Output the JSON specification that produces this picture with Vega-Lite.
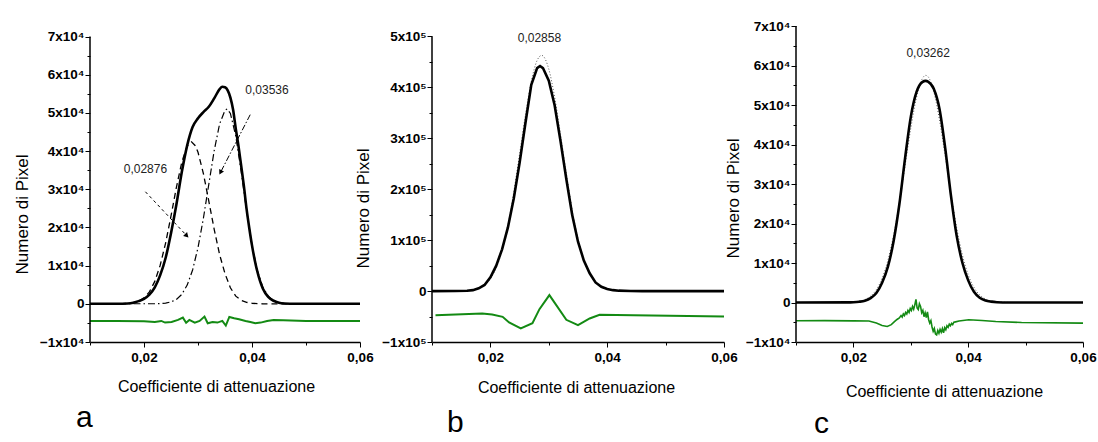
{
  "$schema": "https://vega.github.io/schema/vega-lite/v6.json",
  "background": "white",
  "padding": {"left": 13, "top": 19, "right": 0, "bottom": 0},
  "bounds": "flush",
  "spacing": 72,
  "config": {
    "view": {"stroke": null},
    "axis": {
      "grid": false,
      "domainColor": "#000",
      "tickColor": "#000",
      "labelColor": "#000",
      "titleColor": "#000",
      "labelFont": "Liberation Sans",
      "labelFontWeight": "bold",
      "labelFontSize": 13.5,
      "titleFont": "Liberation Sans",
      "titleFontWeight": "normal",
      "titleFontSize": 16,
      "labelOverlap": false,
      "labelFlush": false,
      "tickCount": 40
    },
    "text": {"font": "Liberation Sans", "fontSize": 12, "color": "#222"}
  },
  "datasets": {
    "A": [
      {"s":"sum","x":0.010,"y":0},{"s":"sum","x":0.015,"y":0},{"s":"sum","x":0.017,"y":100},{"s":"sum","x":0.018,"y":300},{"s":"sum","x":0.019,"y":700},{"s":"sum","x":0.020,"y":1300},{"s":"sum","x":0.021,"y":2400},{"s":"sum","x":0.022,"y":4300},{"s":"sum","x":0.023,"y":7500},{"s":"sum","x":0.024,"y":12000},{"s":"sum","x":0.025,"y":18500},{"s":"sum","x":0.026,"y":26000},{"s":"sum","x":0.027,"y":34500},{"s":"sum","x":0.028,"y":41500},{"s":"sum","x":0.029,"y":46300},{"s":"sum","x":0.030,"y":48600},{"s":"sum","x":0.031,"y":50200},{"s":"sum","x":0.032,"y":51600},{"s":"sum","x":0.033,"y":53800},{"s":"sum","x":0.034,"y":56200},{"s":"sum","x":0.0345,"y":56850},{"s":"sum","x":0.035,"y":56700},{"s":"sum","x":0.0355,"y":55900},{"s":"sum","x":0.036,"y":54000},{"s":"sum","x":0.0365,"y":50800},{"s":"sum","x":0.037,"y":45800},{"s":"sum","x":0.0375,"y":41300},{"s":"sum","x":0.038,"y":36100},{"s":"sum","x":0.0385,"y":30800},{"s":"sum","x":0.039,"y":24800},{"s":"sum","x":0.0395,"y":19800},{"s":"sum","x":0.040,"y":15300},{"s":"sum","x":0.0405,"y":11500},{"s":"sum","x":0.041,"y":8400},{"s":"sum","x":0.042,"y":4000},{"s":"sum","x":0.043,"y":1800},{"s":"sum","x":0.044,"y":800},{"s":"sum","x":0.045,"y":300},{"s":"sum","x":0.046,"y":100},{"s":"sum","x":0.048,"y":0},{"s":"sum","x":0.060,"y":0},
      {"s":"c1","x":0.010,"y":0},{"s":"c1","x":0.016,"y":40},{"s":"c1","x":0.017,"y":110},{"s":"c1","x":0.018,"y":280},{"s":"c1","x":0.019,"y":690},{"s":"c1","x":0.020,"y":1540},{"s":"c1","x":0.021,"y":3130},{"s":"c1","x":0.022,"y":5870},{"s":"c1","x":0.023,"y":10100},{"s":"c1","x":0.024,"y":15900},{"s":"c1","x":0.025,"y":23000},{"s":"c1","x":0.026,"y":30500},{"s":"c1","x":0.027,"y":37100},{"s":"c1","x":0.028,"y":41350},{"s":"c1","x":0.0288,"y":42400},{"s":"c1","x":0.0295,"y":41400},{"s":"c1","x":0.030,"y":39700},{"s":"c1","x":0.031,"y":34100},{"s":"c1","x":0.032,"y":26900},{"s":"c1","x":0.033,"y":19500},{"s":"c1","x":0.034,"y":12900},{"s":"c1","x":0.035,"y":7900},{"s":"c1","x":0.036,"y":4200},{"s":"c1","x":0.037,"y":2000},{"s":"c1","x":0.038,"y":900},{"s":"c1","x":0.039,"y":380},{"s":"c1","x":0.040,"y":150},{"s":"c1","x":0.041,"y":50},{"s":"c1","x":0.042,"y":0},{"s":"c1","x":0.060,"y":0},
      {"s":"c2","x":0.010,"y":0},{"s":"c2","x":0.022,"y":20},{"s":"c2","x":0.023,"y":70},{"s":"c2","x":0.024,"y":190},{"s":"c2","x":0.025,"y":490},{"s":"c2","x":0.026,"y":1150},{"s":"c2","x":0.027,"y":2480},{"s":"c2","x":0.028,"y":4900},{"s":"c2","x":0.029,"y":8860},{"s":"c2","x":0.030,"y":14700},{"s":"c2","x":0.031,"y":22400},{"s":"c2","x":0.032,"y":31300},{"s":"c2","x":0.033,"y":40100},{"s":"c2","x":0.034,"y":47100},{"s":"c2","x":0.035,"y":50700},{"s":"c2","x":0.0354,"y":51000},{"s":"c2","x":0.036,"y":49850},{"s":"c2","x":0.037,"y":43900},{"s":"c2","x":0.038,"y":34600},{"s":"c2","x":0.039,"y":24400},{"s":"c2","x":0.040,"y":15400},{"s":"c2","x":0.041,"y":8700},{"s":"c2","x":0.042,"y":4400},{"s":"c2","x":0.043,"y":2000},{"s":"c2","x":0.044,"y":800},{"s":"c2","x":0.045,"y":290},{"s":"c2","x":0.046,"y":90},{"s":"c2","x":0.047,"y":0},{"s":"c2","x":0.060,"y":0},
      {"s":"res","x":0.010,"y":-4480},{"s":"res","x":0.015,"y":-4500},{"s":"res","x":0.020,"y":-4550},{"s":"res","x":0.0220,"y":-4750},{"s":"res","x":0.0232,"y":-4480},{"s":"res","x":0.0239,"y":-4920},{"s":"res","x":0.0251,"y":-4750},{"s":"res","x":0.0263,"y":-4220},{"s":"res","x":0.0272,"y":-3610},{"s":"res","x":0.0278,"y":-4950},{"s":"res","x":0.0284,"y":-4220},{"s":"res","x":0.0294,"y":-4920},{"s":"res","x":0.0303,"y":-4480},{"s":"res","x":0.0312,"y":-3350},{"s":"res","x":0.0318,"y":-5100},{"s":"res","x":0.0327,"y":-4750},{"s":"res","x":0.0336,"y":-4920},{"s":"res","x":0.0345,"y":-4480},{"s":"res","x":0.03515,"y":-5700},{"s":"res","x":0.0358,"y":-3440},{"s":"res","x":0.0367,"y":-3790},{"s":"res","x":0.0376,"y":-4050},{"s":"res","x":0.0388,"y":-4480},{"s":"res","x":0.0397,"y":-4750},{"s":"res","x":0.0406,"y":-5100},{"s":"res","x":0.0416,"y":-4920},{"s":"res","x":0.0428,"y":-4480},{"s":"res","x":0.0440,"y":-4220},{"s":"res","x":0.0458,"y":-4300},{"s":"res","x":0.050,"y":-4480},{"s":"res","x":0.055,"y":-4500},{"s":"res","x":0.060,"y":-4500}
    ],
    "B": [
      {"s":"sum","x":0.010,"y":0},{"s":"sum","x":0.014,"y":200},{"s":"sum","x":0.016,"y":600},{"s":"sum","x":0.017,"y":1800},{"s":"sum","x":0.018,"y":5500},{"s":"sum","x":0.019,"y":12000},{"s":"sum","x":0.020,"y":27000},{"s":"sum","x":0.021,"y":50000},{"s":"sum","x":0.022,"y":82000},{"s":"sum","x":0.023,"y":125000},{"s":"sum","x":0.024,"y":182000},{"s":"sum","x":0.025,"y":252000},{"s":"sum","x":0.026,"y":330000},{"s":"sum","x":0.027,"y":405000},{"s":"sum","x":0.028,"y":438000},{"s":"sum","x":0.0285,"y":442000},{"s":"sum","x":0.029,"y":438000},{"s":"sum","x":0.030,"y":413000},{"s":"sum","x":0.031,"y":365000},{"s":"sum","x":0.032,"y":295000},{"s":"sum","x":0.033,"y":220000},{"s":"sum","x":0.034,"y":150000},{"s":"sum","x":0.035,"y":97000},{"s":"sum","x":0.036,"y":60000},{"s":"sum","x":0.037,"y":35000},{"s":"sum","x":0.038,"y":17000},{"s":"sum","x":0.039,"y":8500},{"s":"sum","x":0.040,"y":4000},{"s":"sum","x":0.041,"y":1800},{"s":"sum","x":0.042,"y":800},{"s":"sum","x":0.044,"y":200},{"s":"sum","x":0.046,"y":0},{"s":"sum","x":0.060,"y":0},
      {"s":"fit","x":0.010,"y":0},{"s":"fit","x":0.014,"y":100},{"s":"fit","x":0.016,"y":880},{"s":"fit","x":0.017,"y":2250},{"s":"fit","x":0.018,"y":5360},{"s":"fit","x":0.019,"y":11830},{"s":"fit","x":0.020,"y":24150},{"s":"fit","x":0.021,"y":45640},{"s":"fit","x":0.022,"y":79830},{"s":"fit","x":0.023,"y":129300},{"s":"fit","x":0.024,"y":193900},{"s":"fit","x":0.025,"y":269100},{"s":"fit","x":0.026,"y":345900},{"s":"fit","x":0.027,"y":411500},{"s":"fit","x":0.028,"y":453000},{"s":"fit","x":0.0288,"y":463000},{"s":"fit","x":0.029,"y":461900},{"s":"fit","x":0.030,"y":435900},{"s":"fit","x":0.031,"y":380900},{"s":"fit","x":0.032,"y":308000},{"s":"fit","x":0.033,"y":230700},{"s":"fit","x":0.034,"y":159900},{"s":"fit","x":0.035,"y":102600},{"s":"fit","x":0.036,"y":60930},{"s":"fit","x":0.037,"y":33500},{"s":"fit","x":0.038,"y":17050},{"s":"fit","x":0.039,"y":8040},{"s":"fit","x":0.040,"y":3500},{"s":"fit","x":0.041,"y":1420},{"s":"fit","x":0.042,"y":530},{"s":"fit","x":0.044,"y":60},{"s":"fit","x":0.046,"y":0},{"s":"fit","x":0.060,"y":0},
      {"s":"res","x":0.0106,"y":-47300},{"s":"res","x":0.0186,"y":-43950},{"s":"res","x":0.0203,"y":-45900},{"s":"res","x":0.0221,"y":-50500},{"s":"res","x":0.0232,"y":-61700},{"s":"res","x":0.0252,"y":-73500},{"s":"res","x":0.0272,"y":-63000},{"s":"res","x":0.0284,"y":-35500},{"s":"res","x":0.0301,"y":-7900},{"s":"res","x":0.0330,"y":-56400},{"s":"res","x":0.0350,"y":-67000},{"s":"res","x":0.0370,"y":-53800},{"s":"res","x":0.0387,"y":-46500},{"s":"res","x":0.0445,"y":-47300},{"s":"res","x":0.060,"y":-49860}
    ],
    "C": [
      {"s":"sum","x":0.010,"y":0},{"s":"sum","x":0.019,"y":30},{"s":"sum","x":0.020,"y":80},{"s":"sum","x":0.021,"y":200},{"s":"sum","x":0.022,"y":450},{"s":"sum","x":0.023,"y":1100},{"s":"sum","x":0.024,"y":2400},{"s":"sum","x":0.025,"y":5000},{"s":"sum","x":0.026,"y":9000},{"s":"sum","x":0.027,"y":15500},{"s":"sum","x":0.028,"y":24800},{"s":"sum","x":0.029,"y":36500},{"s":"sum","x":0.030,"y":47000},{"s":"sum","x":0.031,"y":53300},{"s":"sum","x":0.032,"y":55800},{"s":"sum","x":0.0326,"y":56100},{"s":"sum","x":0.033,"y":55900},{"s":"sum","x":0.034,"y":54100},{"s":"sum","x":0.035,"y":49000},{"s":"sum","x":0.036,"y":39000},{"s":"sum","x":0.037,"y":27000},{"s":"sum","x":0.038,"y":16800},{"s":"sum","x":0.039,"y":10000},{"s":"sum","x":0.040,"y":5600},{"s":"sum","x":0.041,"y":2700},{"s":"sum","x":0.042,"y":1200},{"s":"sum","x":0.043,"y":500},{"s":"sum","x":0.044,"y":220},{"s":"sum","x":0.045,"y":80},{"s":"sum","x":0.047,"y":0},{"s":"sum","x":0.060,"y":0},
      {"s":"fit","x":0.010,"y":0},{"s":"fit","x":0.018,"y":15},{"s":"fit","x":0.020,"y":124},{"s":"fit","x":0.021,"y":315},{"s":"fit","x":0.022,"y":741},{"s":"fit","x":0.023,"y":1620},{"s":"fit","x":0.024,"y":3270},{"s":"fit","x":0.025,"y":6120},{"s":"fit","x":0.026,"y":10600},{"s":"fit","x":0.027,"y":17000},{"s":"fit","x":0.028,"y":25240},{"s":"fit","x":0.029,"y":34680},{"s":"fit","x":0.030,"y":44130},{"s":"fit","x":0.031,"y":51960},{"s":"fit","x":0.032,"y":56650},{"s":"fit","x":0.0326,"y":57500},{"s":"fit","x":0.033,"y":57180},{"s":"fit","x":0.034,"y":53430},{"s":"fit","x":0.035,"y":46210},{"s":"fit","x":0.036,"y":37010},{"s":"fit","x":0.037,"y":27430},{"s":"fit","x":0.038,"y":18830},{"s":"fit","x":0.039,"y":11960},{"s":"fit","x":0.040,"y":7030},{"s":"fit","x":0.041,"y":3830},{"s":"fit","x":0.042,"y":1930},{"s":"fit","x":0.043,"y":900},{"s":"fit","x":0.044,"y":390},{"s":"fit","x":0.045,"y":155},{"s":"fit","x":0.046,"y":60},{"s":"fit","x":0.048,"y":0},{"s":"fit","x":0.060,"y":0},
      {"s":"res","x":0.010,"y":-4630},{"s":"res","x":0.015,"y":-4600},{"s":"res","x":0.020,"y":-4650},{"s":"res","x":0.0227,"y":-4700},{"s":"res","x":0.0240,"y":-5200},{"s":"res","x":0.0250,"y":-5800},{"s":"res","x":0.0259,"y":-6070},{"s":"res","x":0.0266,"y":-5600},{"s":"res","x":0.0272,"y":-4800},{"s":"res","x":0.0276,"y":-4300},{"s":"res","x":0.0280,"y":-3900},{"s":"res","x":0.0283,"y":-3300},{"s":"res","x":0.0285,"y":-3700},{"s":"res","x":0.0287,"y":-2900},{"s":"res","x":0.0289,"y":-3300},{"s":"res","x":0.0291,"y":-2500},{"s":"res","x":0.0293,"y":-2900},{"s":"res","x":0.0295,"y":-2000},{"s":"res","x":0.0297,"y":-2500},{"s":"res","x":0.0299,"y":-1500},{"s":"res","x":0.0301,"y":-2000},{"s":"res","x":0.0303,"y":-1000},{"s":"res","x":0.0305,"y":-1700},{"s":"res","x":0.0307,"y":-600},{"s":"res","x":0.0309,"y":800},{"s":"res","x":0.0311,"y":-1400},{"s":"res","x":0.0313,"y":-1800},{"s":"res","x":0.0315,"y":-300},{"s":"res","x":0.0317,"y":-1000},{"s":"res","x":0.0319,"y":-2600},{"s":"res","x":0.0321,"y":-2000},{"s":"res","x":0.0323,"y":-3600},{"s":"res","x":0.0325,"y":-2600},{"s":"res","x":0.0327,"y":-3800},{"s":"res","x":0.0329,"y":-2400},{"s":"res","x":0.0331,"y":-4300},{"s":"res","x":0.0333,"y":-5200},{"s":"res","x":0.0335,"y":-4600},{"s":"res","x":0.0337,"y":-6200},{"s":"res","x":0.0339,"y":-7300},{"s":"res","x":0.0341,"y":-6600},{"s":"res","x":0.0343,"y":-8000},{"s":"res","x":0.0345,"y":-8200},{"s":"res","x":0.0347,"y":-7100},{"s":"res","x":0.0349,"y":-7800},{"s":"res","x":0.0351,"y":-6800},{"s":"res","x":0.0353,"y":-7500},{"s":"res","x":0.0355,"y":-6600},{"s":"res","x":0.0357,"y":-7700},{"s":"res","x":0.0359,"y":-6400},{"s":"res","x":0.0361,"y":-6900},{"s":"res","x":0.0363,"y":-5900},{"s":"res","x":0.0365,"y":-6300},{"s":"res","x":0.0367,"y":-5500},{"s":"res","x":0.0369,"y":-5900},{"s":"res","x":0.0371,"y":-5300},{"s":"res","x":0.0373,"y":-5600},{"s":"res","x":0.0375,"y":-5000},{"s":"res","x":0.0378,"y":-4900},{"s":"res","x":0.0384,"y":-4700},{"s":"res","x":0.0401,"y":-4380},{"s":"res","x":0.0424,"y":-4550},{"s":"res","x":0.0448,"y":-4800},{"s":"res","x":0.0493,"y":-5060},{"s":"res","x":0.060,"y":-5230}
    ]
  },
  "hconcat": [
    {
      "width": 270,
      "height": 316,
      "title": {"text": "a", "orient": "bottom", "anchor": "start", "frame": "group", "font": "Liberation Sans", "fontSize": 30, "fontWeight": "normal", "color": "#000", "dx": -14, "offset": 9},
      "layer": [
        {
          "data": {"name": "A"},
          "transform": [{"filter": "datum.s == 'c1'"}],
          "mark": {"type": "line", "color": "#000", "strokeWidth": 1.3, "strokeDash": [6, 4]},
          "encoding": {
            "x": {"field": "x", "type": "quantitative", "scale": {"domain": [0.01, 0.06], "nice": false, "zero": false},
              "axis": {"values": [0.01, 0.02, 0.03, 0.04, 0.05, 0.06], "tickCount": 40, "labelOverlap": false, "labelExpr": "datum.value > 0.015 && abs(datum.value*100 - round(datum.value*50)*2) < 0.1 ? replace(format(datum.value, '.2f'), '.', ',') : ''", "tickSize": {"condition": {"test": "abs(datum.value*100 - round(datum.value*50)*2) > 0.1", "value": 3}, "value": 5}, "domainWidth": 1.5, "labelPadding": 3, "title": "Coefficiente di attenuazione", "titleX": 126, "titleY": 44, "titleBaseline": "middle"}},
            "y": {"field": "y", "type": "quantitative", "scale": {"domain": [-10000, 72750], "nice": false, "zero": false},
              "axis": {"values": [-10000, -5000, 0, 5000, 10000, 15000, 20000, 25000, 30000, 35000, 40000, 45000, 50000, 55000, 60000, 65000, 70000], "tickCount": 40, "labelOverlap": false, "labelExpr": "datum.value % 10000 != 0 ? '' : (datum.value == 0 ? '0' : format(datum.value/10000, 'd') + 'x10⁴')", "domain": false, "tickSize": {"condition": {"test": "datum.value % 10000 != 0", "value": 3}, "value": 5}, "labelPadding": 1, "title": "Numero di Pixel", "titleFontSize": 17, "titleX": -68, "titleY": 188, "titleBaseline": "middle", "titleAlign": "center"}}
          }
        },
        {
          "data": {"name": "A"},
          "transform": [{"filter": "datum.s == 'c2'"}],
          "mark": {"type": "line", "color": "#000", "strokeWidth": 1.2, "strokeDash": [7, 3, 1.5, 3]},
          "encoding": {"x": {"field": "x", "type": "quantitative"}, "y": {"field": "y", "type": "quantitative"}}
        },
        {
          "data": {"name": "A"},
          "transform": [{"filter": "datum.s == 'res'"}],
          "mark": {"type": "line", "color": "#138a13", "strokeWidth": 2},
          "encoding": {"x": {"field": "x", "type": "quantitative"}, "y": {"field": "y", "type": "quantitative"}}
        },
        {
          "data": {"name": "A"},
          "transform": [{"filter": "datum.s == 'sum'"}],
          "mark": {"type": "line", "color": "#000", "strokeWidth": 2.6, "interpolate": "monotone"},
          "encoding": {"x": {"field": "x", "type": "quantitative"}, "y": {"field": "y", "type": "quantitative"}}
        },
        {
          "data": {"values": [{"x": 0.01, "y": -10000, "y2": 70000}]},
          "mark": {"type": "rule", "color": "#000", "strokeWidth": 1.5},
          "encoding": {"x": {"field": "x", "type": "quantitative"}, "y": {"field": "y", "type": "quantitative"}, "y2": {"field": "y2"}}
        },
        {
          "data": {"values": [{"x": 0.02026, "y": 29340, "x2": 0.02782, "y2": 17990}]},
          "mark": {"type": "rule", "color": "#000", "strokeWidth": 1, "strokeDash": [3, 3]},
          "encoding": {"x": {"field": "x", "type": "quantitative"}, "y": {"field": "y", "type": "quantitative"}, "x2": {"field": "x2"}, "y2": {"field": "y2"}}
        },
        {
          "data": {"values": [{"x": 0.02782, "y": 17990}]},
          "mark": {"type": "point", "shape": "triangle", "filled": true, "color": "#000", "size": 30, "angle": 136, "opacity": 1},
          "encoding": {"x": {"field": "x", "type": "quantitative"}, "y": {"field": "y", "type": "quantitative"}}
        },
        {
          "data": {"values": [{"x": 0.03967, "y": 49530, "x2": 0.03423, "y2": 34580}]},
          "mark": {"type": "rule", "color": "#000", "strokeWidth": 1, "strokeDash": [6, 2, 1.5, 2]},
          "encoding": {"x": {"field": "x", "type": "quantitative"}, "y": {"field": "y", "type": "quantitative"}, "x2": {"field": "x2"}, "y2": {"field": "y2"}}
        },
        {
          "data": {"values": [{"x": 0.03423, "y": 34580}]},
          "mark": {"type": "point", "shape": "triangle", "filled": true, "color": "#000", "size": 30, "angle": 207, "opacity": 1},
          "encoding": {"x": {"field": "x", "type": "quantitative"}, "y": {"field": "y", "type": "quantitative"}}
        },
        {
          "data": {"values": [{"label": "0,03536", "x": 0.04278, "y": 56080}, {"label": "0,02876", "x": 0.02026, "y": 35370}]},
          "mark": {"type": "text", "align": "center", "baseline": "middle"},
          "encoding": {"x": {"field": "x", "type": "quantitative"}, "y": {"field": "y", "type": "quantitative"}, "text": {"field": "label"}}
        }
      ]
    },
    {
      "width": 292,
      "height": 316,
      "title": {"text": "b", "orient": "bottom", "anchor": "start", "frame": "group", "font": "Liberation Sans", "fontSize": 30, "fontWeight": "normal", "color": "#000", "dx": 15, "offset": 13},
      "layer": [
        {
          "data": {"name": "B"},
          "transform": [{"filter": "datum.s == 'fit'"}],
          "mark": {"type": "line", "color": "#555", "strokeWidth": 1, "strokeDash": [1, 2], "interpolate": "monotone"},
          "encoding": {
            "x": {"field": "x", "type": "quantitative", "scale": {"domain": [0.01, 0.06], "nice": false, "zero": false},
              "axis": {"values": [0.01, 0.02, 0.03, 0.04, 0.05, 0.06], "tickCount": 40, "labelOverlap": false, "labelExpr": "datum.value > 0.015 && abs(datum.value*100 - round(datum.value*50)*2) < 0.1 ? replace(format(datum.value, '.2f'), '.', ',') : ''", "tickSize": {"condition": {"test": "abs(datum.value*100 - round(datum.value*50)*2) > 0.1", "value": 3}, "value": 5}, "domainWidth": 1.5, "labelPadding": 3, "title": "Coefficiente di attenuazione", "titleX": 144, "titleY": 45, "titleBaseline": "middle"}},
            "y": {"field": "y", "type": "quantitative", "scale": {"domain": [-100000, 520600], "nice": false, "zero": false},
              "axis": {"values": [-100000, -50000, 0, 50000, 100000, 150000, 200000, 250000, 300000, 350000, 400000, 450000, 500000], "tickCount": 40, "labelOverlap": false, "labelExpr": "datum.value % 100000 != 0 ? '' : (datum.value == 0 ? '0' : format(datum.value/100000, 'd') + 'x10⁵')", "domain": false, "tickSize": {"condition": {"test": "datum.value % 100000 != 0", "value": 3}, "value": 5}, "labelPadding": 1, "title": "Numero di Pixel", "titleFontSize": 17, "titleX": -69, "titleY": 182, "titleBaseline": "middle", "titleAlign": "center"}}
          }
        },
        {
          "data": {"name": "B"},
          "transform": [{"filter": "datum.s == 'res'"}],
          "mark": {"type": "line", "color": "#138a13", "strokeWidth": 2},
          "encoding": {"x": {"field": "x", "type": "quantitative"}, "y": {"field": "y", "type": "quantitative"}}
        },
        {
          "data": {"name": "B"},
          "transform": [{"filter": "datum.s == 'sum'"}],
          "mark": {"type": "line", "color": "#000", "strokeWidth": 2.6},
          "encoding": {"x": {"field": "x", "type": "quantitative"}, "y": {"field": "y", "type": "quantitative"}}
        },
        {
          "data": {"values": [{"x": 0.01, "y": -100000, "y2": 500000}]},
          "mark": {"type": "rule", "color": "#000", "strokeWidth": 1.5},
          "encoding": {"x": {"field": "x", "type": "quantitative"}, "y": {"field": "y", "type": "quantitative"}, "y2": {"field": "y2"}}
        },
        {
          "data": {"values": [{"label": "0,02858", "x": 0.0284, "y": 496600}]},
          "mark": {"type": "text", "align": "center", "baseline": "middle"},
          "encoding": {"x": {"field": "x", "type": "quantitative"}, "y": {"field": "y", "type": "quantitative"}, "text": {"field": "label"}}
        }
      ]
    },
    {
      "width": 287,
      "height": 316,
      "title": {"text": "c", "orient": "bottom", "anchor": "start", "frame": "group", "font": "Liberation Sans", "fontSize": 30, "fontWeight": "normal", "color": "#000", "dx": 18, "offset": 10},
      "layer": [
        {
          "data": {"name": "C"},
          "transform": [{"filter": "datum.s == 'fit'"}],
          "mark": {"type": "line", "color": "#555", "strokeWidth": 1, "strokeDash": [1, 2], "interpolate": "monotone"},
          "encoding": {
            "x": {"field": "x", "type": "quantitative", "scale": {"domain": [0.01, 0.06], "nice": false, "zero": false},
              "axis": {"values": [0.01, 0.02, 0.03, 0.04, 0.05, 0.06], "tickCount": 40, "labelOverlap": false, "labelExpr": "datum.value > 0.015 && abs(datum.value*100 - round(datum.value*50)*2) < 0.1 ? replace(format(datum.value, '.2f'), '.', ',') : ''", "tickSize": {"condition": {"test": "abs(datum.value*100 - round(datum.value*50)*2) > 0.1", "value": 3}, "value": 5}, "domainWidth": 1.5, "labelPadding": 3, "title": "Coefficiente di attenuazione", "titleX": 148, "titleY": 49, "titleBaseline": "middle"}},
            "y": {"field": "y", "type": "quantitative", "scale": {"domain": [-10000, 70000], "nice": false, "zero": false},
              "axis": {"values": [-10000, -5000, 0, 5000, 10000, 15000, 20000, 25000, 30000, 35000, 40000, 45000, 50000, 55000, 60000, 65000, 70000], "tickCount": 40, "labelOverlap": false, "labelExpr": "datum.value % 10000 != 0 ? '' : (datum.value == 0 ? '0' : format(datum.value/10000, 'd') + 'x10⁴')", "domain": false, "tickSize": {"condition": {"test": "datum.value % 10000 != 0", "value": 3}, "value": 5}, "labelPadding": 1, "title": "Numero di Pixel", "titleFontSize": 17, "titleX": -63, "titleY": 172, "titleBaseline": "middle", "titleAlign": "center"}}
          }
        },
        {
          "data": {"name": "C"},
          "transform": [{"filter": "datum.s == 'res'"}],
          "mark": {"type": "line", "color": "#138a13", "strokeWidth": 1.6},
          "encoding": {"x": {"field": "x", "type": "quantitative"}, "y": {"field": "y", "type": "quantitative"}}
        },
        {
          "data": {"name": "C"},
          "transform": [{"filter": "datum.s == 'sum'"}],
          "mark": {"type": "line", "color": "#000", "strokeWidth": 2.6, "interpolate": "monotone"},
          "encoding": {"x": {"field": "x", "type": "quantitative"}, "y": {"field": "y", "type": "quantitative"}}
        },
        {
          "data": {"values": [{"x": 0.01, "y": -10000, "y2": 70000}]},
          "mark": {"type": "rule", "color": "#000", "strokeWidth": 1.5},
          "encoding": {"x": {"field": "x", "type": "quantitative"}, "y": {"field": "y", "type": "quantitative"}, "y2": {"field": "y2"}}
        },
        {
          "data": {"values": [{"label": "0,03262", "x": 0.03302, "y": 63070}]},
          "mark": {"type": "text", "align": "center", "baseline": "middle"},
          "encoding": {"x": {"field": "x", "type": "quantitative"}, "y": {"field": "y", "type": "quantitative"}, "text": {"field": "label"}}
        }
      ]
    }
  ]
}
